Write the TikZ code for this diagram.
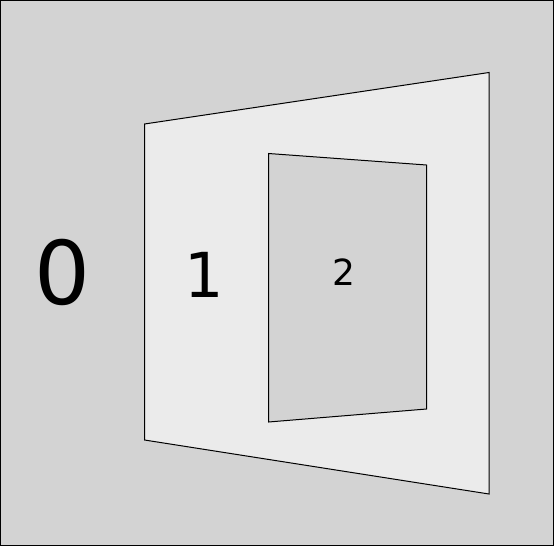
\documentclass[tikz,border=0pt]{standalone}
\usepackage{fontspec}
\setmainfont{DejaVu Sans}
\definecolor{bgray}{HTML}{D3D3D3}
\definecolor{lgray}{HTML}{EBEBEB}
\begin{document}
\begin{tikzpicture}[x=1pt,y=-1pt,
  region/.style={draw=black,line width=1pt,line join=miter},
  lbl/.style={inner sep=0pt,text=black}]
\useasboundingbox (0,0) rectangle (554,546);
\path[region,fill=bgray] (0.5,0.5) rectangle (553.5,545.5);
\path[region,fill=lgray] (144.5,124) -- (489,72.5) -- (489,494) -- (144.5,440) -- cycle;
\path[region,fill=bgray] (268.5,153.5) -- (426.5,165) -- (426.5,409) -- (268.5,422) -- cycle;
\node[lbl,font=\fontsize{88}{88}\selectfont] (z) at (62,272) {0};
\node[lbl,font=\fontsize{62}{62}\selectfont] (o) at (204,274.5) {1};
\node[lbl,font=\fontsize{36}{36}\selectfont] (t) at (343.5,272) {2};
\end{tikzpicture}
\end{document}
